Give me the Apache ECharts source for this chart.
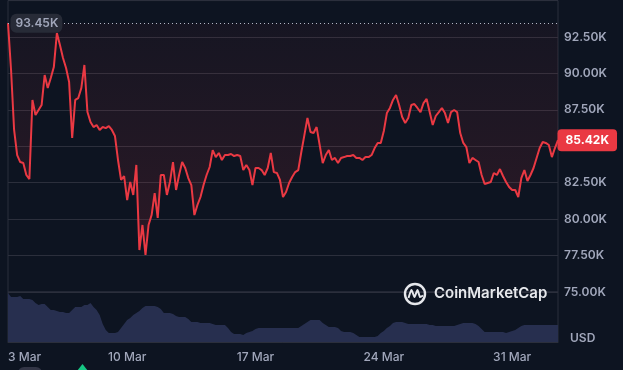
<!DOCTYPE html>
<html><head><meta charset="utf-8">
<script src="https://cdn.jsdelivr.net/npm/echarts@6/dist/echarts.min.js"></script>
<style>html,body{margin:0;padding:0;background:#0d1421;}#c{width:623px;height:370px;}</style>
</head><body><div id="c"></div>
<script>
// BTC price, one point every 4 hours, 3 Mar 12:00 -> 2 Apr 12:00 (USD)
const price = [
93450, 90240, 86120, 84400, 83920, 83850, 83030, 82750, 88180, 87150,
87490, 87830, 89890, 89000, 89690, 90440, 92770, 91950, 91060, 90370,
89410, 85570, 88180, 88310, 89000, 90580, 87350, 86670, 86320, 86460,
86120, 86320, 86250, 86390, 86120, 85710, 84060, 82690, 82960, 81310,
82550, 81660, 83720, 77880, 79600, 77540, 79600, 80280, 81790, 80080,
83030, 83030, 81660, 82550, 83920, 82000, 83030, 83920, 83510, 82820,
82340, 80280, 80970, 81520, 82340, 83030, 83580, 84740, 84260, 84540,
84060, 84400, 84400, 84470, 84330, 84400, 84330, 83370, 83720, 83370,
82340, 83510, 83510, 83370, 83030, 83510, 84540, 83230, 83170, 82690,
81520, 81860, 82480, 82890, 83230, 83370, 84610, 85770, 86940, 85980,
85910, 86320, 85090, 83850, 84400, 84740, 84060, 84200, 83850, 84200,
84260, 84330, 84330, 84400, 84200, 84200, 84060, 84260, 84260, 84400,
84880, 85230, 85230, 86050, 87280, 87630, 88180, 88520, 87830, 87010,
86600, 86940, 87830, 87900, 87630, 87350, 87970, 88250, 87350, 86460,
87080, 87350, 87630, 87280, 86600, 87350, 87490, 87350, 85910, 85230,
84950, 83850, 84200, 84060, 83920, 83030, 82410, 82480, 82550, 83170,
83030, 83440, 82960, 82550, 82210, 82000, 82000, 81520, 82820, 83370,
82620, 83030, 83510, 84200, 84880, 85290, 85230, 85090, 84260, 84880,
85420
];
// 24h volume (billion USD), same timestamps
const volume = [
98, 90, 90, 90, 92, 86, 86, 86, 84, 78,
74, 76, 76, 70, 64, 64, 62, 60, 60, 58,
58, 64, 70, 70, 70, 74, 74, 78, 70, 64,
54, 36, 24, 18, 18, 18, 20, 28, 36, 44,
48, 54, 58, 62, 68, 72, 72, 72, 72, 70,
66, 58, 58, 58, 56, 52, 50, 50, 50, 46,
40, 40, 40, 38, 38, 38, 38, 36, 34, 34,
34, 34, 28, 20, 16, 16, 16, 14, 18, 20,
22, 26, 28, 28, 28, 28, 28, 28, 28, 28,
28, 28, 28, 28, 28, 28, 32, 36, 40, 44,
44, 44, 44, 38, 34, 30, 30, 30, 28, 22,
20, 20, 20, 18, 14, 10, 10, 10, 10, 10,
10, 12, 18, 22, 28, 32, 38, 40, 40, 40,
38, 36, 36, 36, 36, 36, 36, 36, 34, 34,
32, 32, 32, 32, 32, 32, 32, 34, 36, 38,
38, 38, 38, 36, 32, 26, 20, 20, 20, 20,
20, 20, 20, 18, 20, 22, 24, 28, 32, 34,
34, 34, 34, 34, 34, 34, 34, 34, 34, 34,
34
];
const tickIdx = [0, 39, 81, 123, 165];
const tickLabels = ['3 Mar', '10 Mar', '17 Mar', '24 Mar', '31 Mar'];
const openPrice = 93450;
const lastPrice = 85420;
const yMin = 75000, yMax = 95000, yStep = 2500;

const fmtK = v => (v / 1000).toFixed(2) + 'K';
const chart = echarts.init(document.getElementById('c'));
const lastIdx = price.length - 1;
chart.setOption({
  backgroundColor: '#0d1421',
  animation: false,
  textStyle: { fontFamily: 'Inter' },
  grid: [
    { left: 8, right: 65, top: 0.6, bottom: 78, show: true, borderColor: '#2b2f3c', borderWidth: 1 },
    { left: 8, right: 65, top: 292, bottom: 28, show: true, borderColor: '#2b2f3c', borderWidth: 1 }
  ],
  xAxis: [
    { type: 'value', gridIndex: 0, min: 0, max: lastIdx, show: false },
    { type: 'value', gridIndex: 1, min: 0, max: lastIdx,
      axisLine: { show: true, lineStyle: { color: '#2b2f3c' } },
      axisTick: { show: false }, splitLine: { show: false },
      axisLabel: { customValues: tickIdx, alignMinLabel: 'left',
        formatter: v => tickLabels[tickIdx.indexOf(v)] || '',
        color: '#a1a7bb', fontSize: 12, fontWeight: 500, margin: 9, padding: [0, 0, 0, 0] } }
  ],
  yAxis: [
    { type: 'value', gridIndex: 0, position: 'right', min: yMin, max: yMax, interval: yStep,
      axisLine: { show: false }, axisTick: { show: false },
      splitLine: { lineStyle: { color: '#2b2f3c' } },
      axisLabel: { showMaxLabel: false, color: '#a1a7bb', fontSize: 12, fontWeight: 600, margin: 6, formatter: fmtK } },
    { type: 'value', gridIndex: 1, min: 0, max: 100, show: false }
  ],
  series: [
    { type: 'line', xAxisIndex: 1, yAxisIndex: 1, data: volume.map((v, i) => [i, v]),
      symbol: 'none', lineStyle: { width: 0 }, areaStyle: { color: '#272f4f', opacity: 1 }, z: 1, silent: true },
    { type: 'line', xAxisIndex: 0, yAxisIndex: 0, data: price.map((v, i) => [i, v]),
      symbol: 'none', clip: false, z: 3,
      lineStyle: { color: '#ea3943', width: 2 },
      areaStyle: { origin: openPrice,
        color: new echarts.graphic.LinearGradient(0, 0, 0, 1, [
          { offset: 0, color: 'rgba(234,57,67,0.06)' },
          { offset: 1, color: 'rgba(234,57,67,0.2)' }
        ]) },
      markLine: { silent: true, symbol: ['none', 'none'], z: 4,
        lineStyle: { type: [1, 3], color: '#b4bac8', width: 1 },
        label: { show: false },
        data: [{ yAxis: openPrice }] },
      markPoint: { silent: true, z: 8,
        data: [
          { coord: [0, openPrice], symbol: 'circle', symbolSize: 1, itemStyle: { color: 'rgba(0,0,0,0)' },
            label: { show: true, position: 'right', distance: 2, formatter: fmtK(openPrice),
              backgroundColor: '#272b37', color: '#a1a7bb', fontSize: 12, fontWeight: 600,
              padding: [4, 4, 3, 5], borderRadius: 6 } },
          { coord: [lastIdx, lastPrice], symbol: 'circle', symbolSize: 1, itemStyle: { color: 'rgba(0,0,0,0)' },
            label: { show: true, position: 'right', distance: -1, formatter: fmtK(lastPrice),
              backgroundColor: '#ea3943', color: '#ffffff', fontSize: 12, fontWeight: 700,
              padding: [5, 8, 5, 8], borderRadius: 4 } }
        ] } }
  ],
  graphic: [
    { type: 'circle', shape: { cx: 415, cy: 294, r: 10 }, style: { fill: 'none', stroke: '#e6e8ec', lineWidth: 2.4 }, z: 100 },
    { type: 'polyline', shape: { points: [[408.5, 298], [411.5, 290], [414.5, 297], [417.5, 290], [420, 297], [423, 295.5]], smooth: 0.2 },
      style: { stroke: '#e6e8ec', lineWidth: 2, fill: 'none' }, z: 100 },
    { type: 'text', left: 434, top: 286, style: { text: 'CoinMarketCap', fill: '#e6e8ec', font: '600 15px Inter' }, z: 100 },
    { type: 'text', left: 570, top: 332, style: { text: 'USD', fill: '#a1a7bb', font: '600 12px Inter' }, z: 100 },
    { type: 'rect', shape: { x: 18, y: 367, width: 24, height: 12, r: 6 }, style: { fill: '#323546' }, z: 100 },
    { type: 'polygon', shape: { points: [[82.5, 364], [77, 371], [88, 371]] }, style: { fill: '#16c784' }, z: 100 }
  ]
});
</script></body></html>
